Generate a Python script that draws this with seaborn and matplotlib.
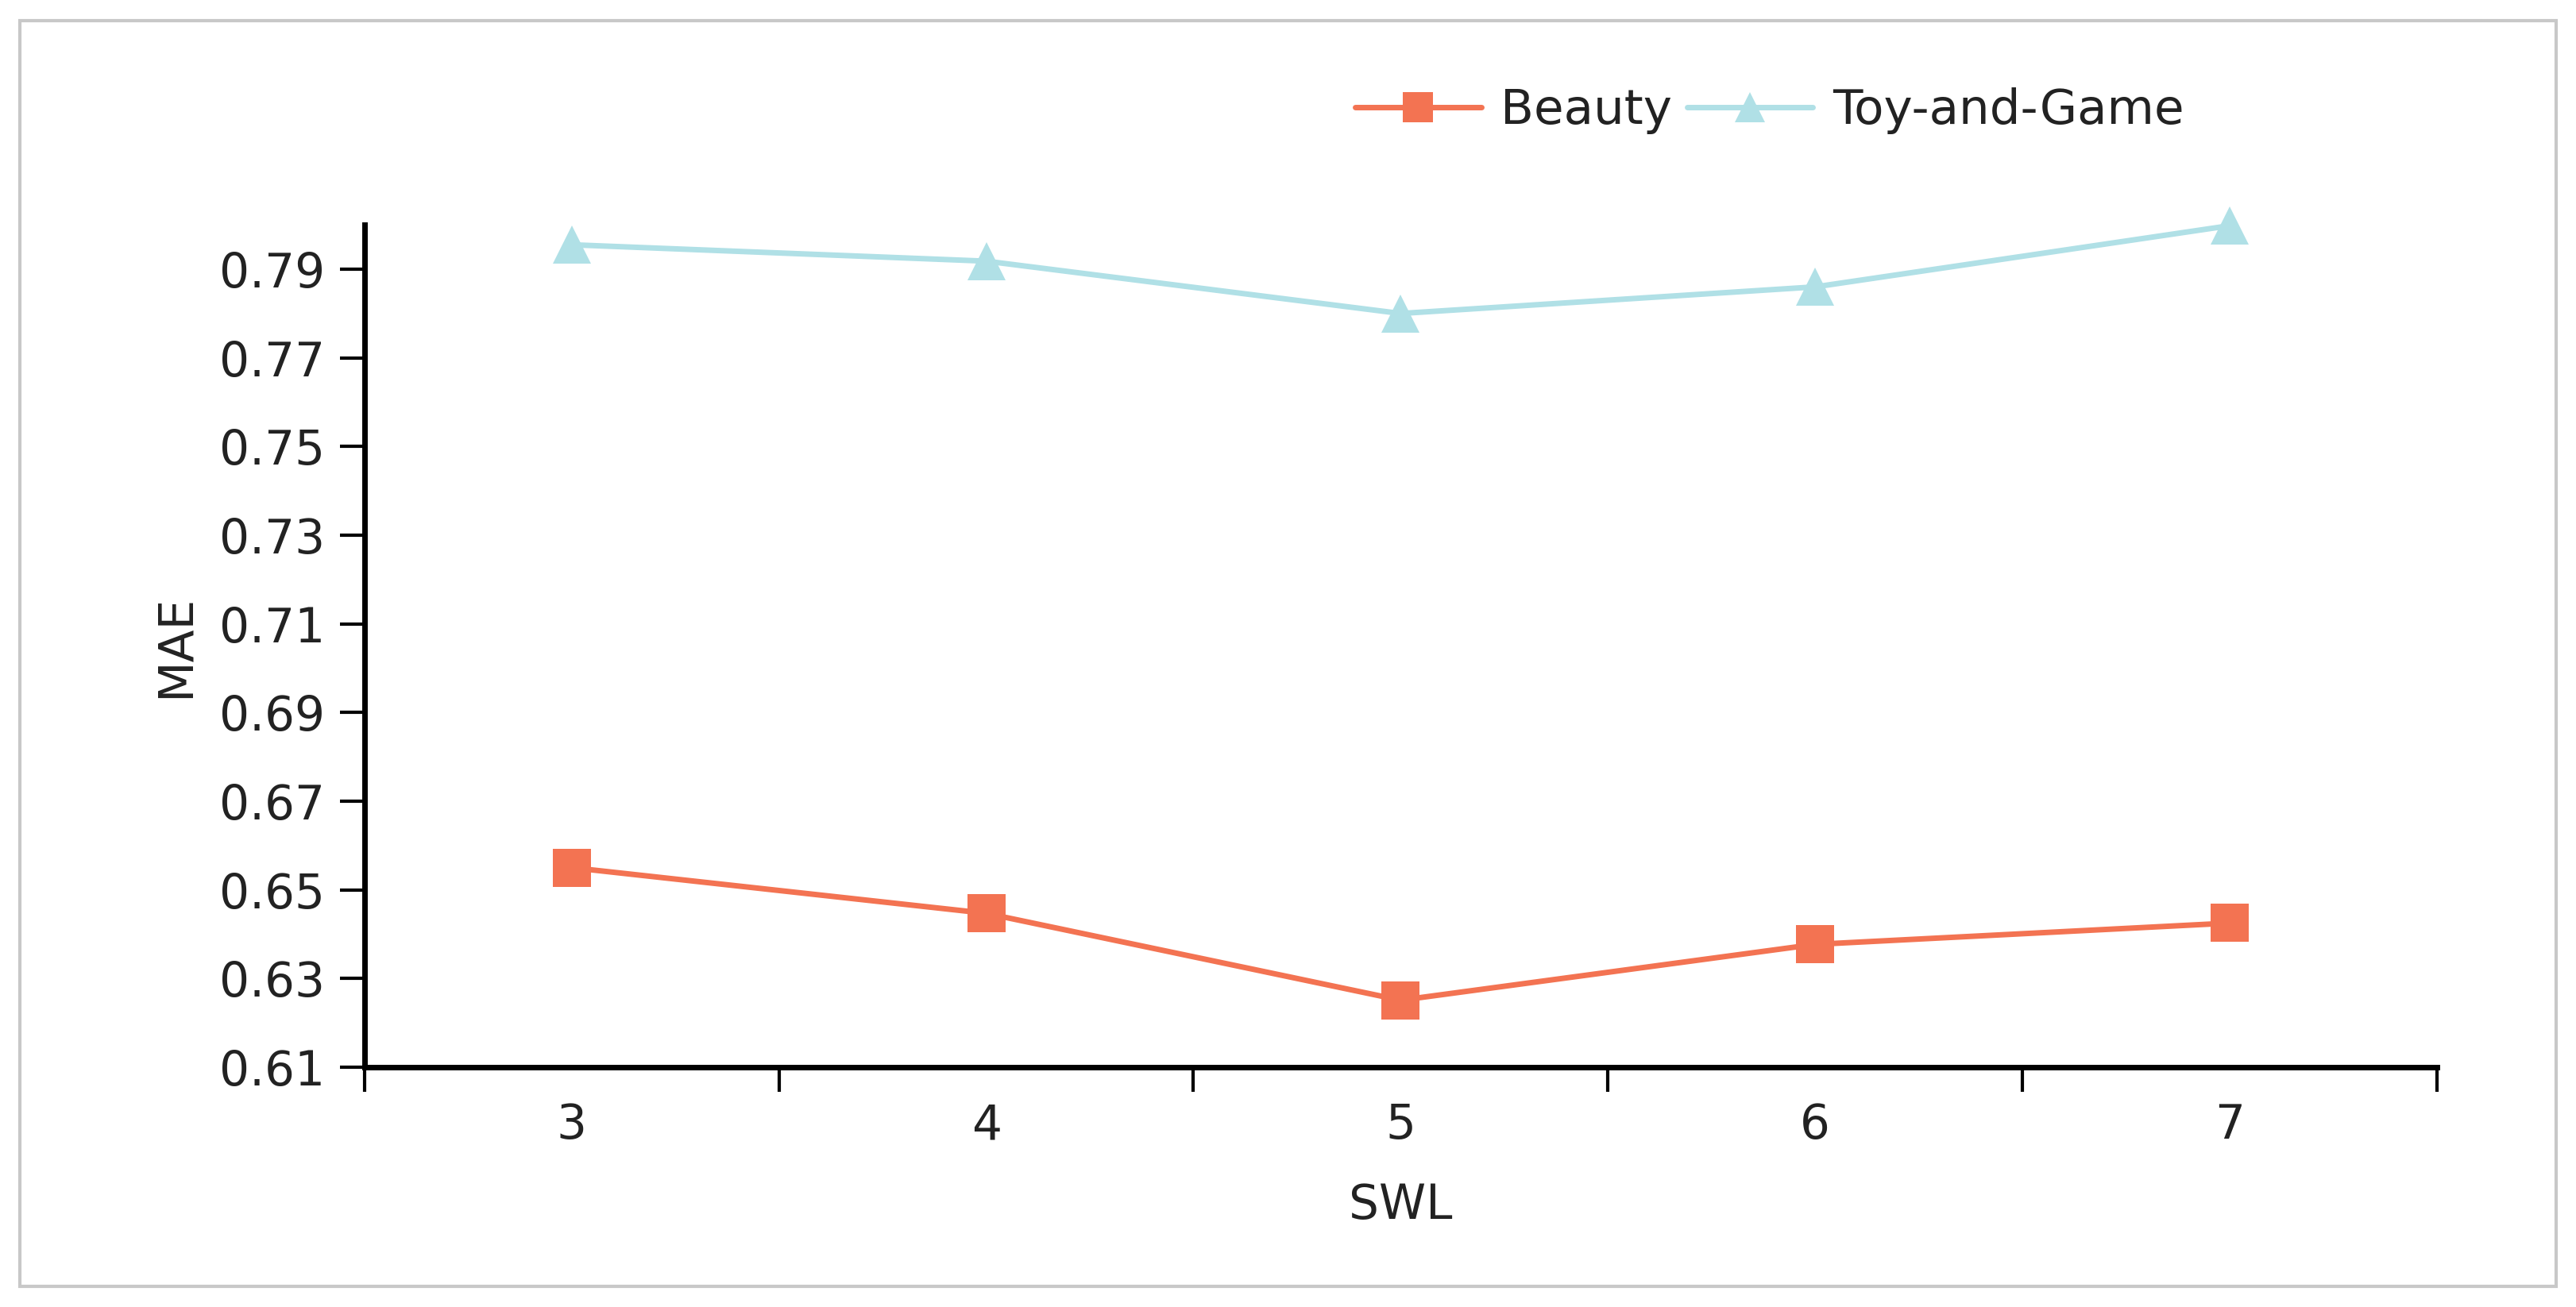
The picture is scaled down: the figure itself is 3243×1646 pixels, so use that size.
import numpy as np
import pandas as pd
import matplotlib
matplotlib.use("Agg")
import matplotlib.pyplot as plt
import seaborn as sns
from matplotlib.patches import Rectangle

# data
swl = [3, 4, 5, 6, 7]
beauty = [0.655, 0.6447, 0.6251, 0.6377, 0.6425]
toy_game = [0.7955, 0.7918, 0.7800, 0.7860, 0.7998]
series_names = ["Beauty", "Toy-and-Game"]
y_ticks = [0.61, 0.63, 0.65, 0.67, 0.69, 0.71, 0.73, 0.75, 0.77, 0.79]

df = pd.DataFrame({
    "SWL": swl * 2,
    "MAE": beauty + toy_game,
    "dataset": [series_names[0]] * len(swl) + [series_names[1]] * len(swl),
})

sns.set_style("white")
plt.rcParams["font.family"] = ["DejaVu Sans"]
plt.rcParams["text.color"] = "#222222"
plt.rcParams["axes.labelcolor"] = "#222222"
plt.rcParams["xtick.color"] = "#222222"
plt.rcParams["ytick.color"] = "#222222"

fig = plt.figure(figsize=(32.43, 16.46), dpi=100)
ax = fig.add_axes([0.1415, 0.1835, 0.8045, 0.6445])

palette = {"Beauty": "#f37352", "Toy-and-Game": "#b0e0e6"}
markers = {"Beauty": "s", "Toy-and-Game": "^"}
sns.lineplot(data=df, x="SWL", y="MAE", hue="dataset", style="dataset",
             palette=palette, markers=markers, dashes=False,
             linewidth=5, markersize=34, markeredgewidth=0, ax=ax)
for ln in ax.lines:
    ln.set_clip_on(False)

ax.set_xlim(2.5, 7.5)
ax.set_ylim(0.61, 0.80)
ax.set_yticks(y_ticks)
ax.set_yticklabels([f"{v:.2f}" for v in y_ticks])
ax.set_xticks(swl)
ax.set_xticklabels([str(s) for s in swl])
ax.set_xticks(np.arange(2.5, 8.0, 1.0), minor=True)
ax.tick_params(axis="x", which="major", bottom=True, length=0, pad=32, labelsize=43)
ax.tick_params(axis="x", which="minor", bottom=True, length=22, width=3, color="black")
ax.tick_params(axis="y", which="major", left=True, length=22, width=3, color="black",
               pad=14, labelsize=43)

for side in ["top", "right"]:
    ax.spines[side].set_visible(False)
for side in ["left", "bottom"]:
    ax.spines[side].set_linewidth(5)
    ax.spines[side].set_color("black")

ax.set_xlabel("SWL", fontsize=43, labelpad=30)
ax.set_ylabel("MAE", fontsize=43, labelpad=18)

leg = ax.legend(loc="center", bbox_to_anchor=(0.678, 1.135), ncol=2, frameon=False,
                fontsize=44, handlelength=2.6, columnspacing=0.3, handletextpad=0.4,
                markerscale=0.8)

# light frame around the figure
fig.patches.append(Rectangle((0.0077, 0.0155), 0.9846, 0.969, transform=fig.transFigure,
                             fill=False, edgecolor="#c8c8c8", linewidth=3))

fig.savefig("out.png", dpi=100)
